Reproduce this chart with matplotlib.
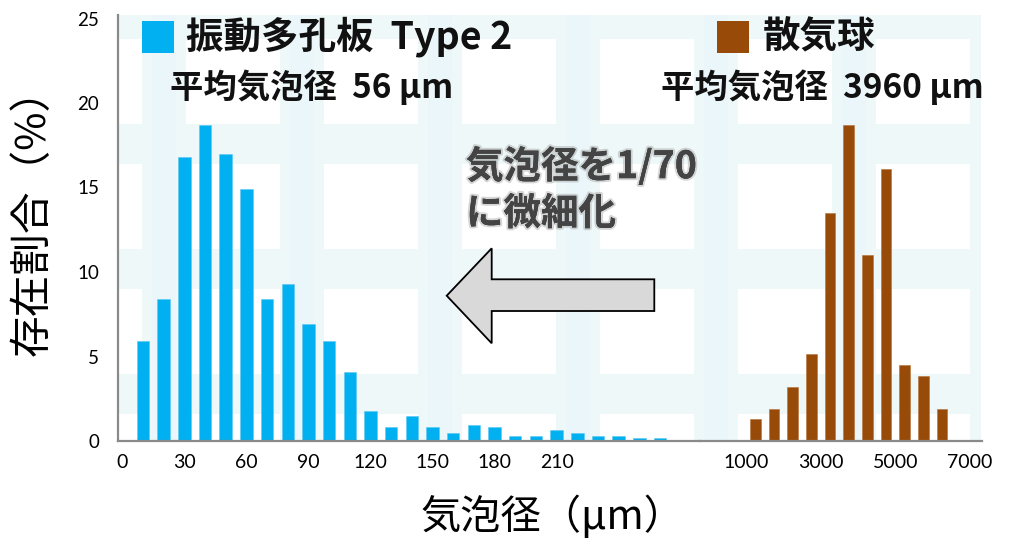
import matplotlib
matplotlib.use("Agg")
import matplotlib.pyplot as plt
from matplotlib.patches import Rectangle, Polygon
import matplotlib.patheffects as pe

# ---------------- data ----------------
# vibrating perforated plate (Type 2): 10 um classes
fine_bins_um = [10, 20, 30, 40, 50, 60, 70, 80, 90, 100, 110, 120, 130,
                140, 150, 160, 170, 180, 190, 200, 210, 220, 230, 240, 250, 260]
fine_share = [5.9, 8.4, 16.8, 18.7, 17.0, 14.9, 8.4, 9.3, 6.9, 5.9, 4.1, 1.8, 0.8,
              1.5, 0.8, 0.45, 0.95, 0.8, 0.3, 0.3, 0.65, 0.45, 0.3, 0.3, 0.16, 0.16]
# diffuser ball: 500 um classes
coarse_bins_um = [1250, 1750, 2250, 2750, 3250, 3750, 4250, 4750, 5250, 5750, 6250]
coarse_share = [1.3, 1.9, 3.2, 5.15, 13.5, 18.7, 11.0, 16.1, 4.5, 3.85, 1.9]

fine_ticks = [0, 30, 60, 90, 120, 150, 180, 210]
coarse_ticks = [1000, 3000, 5000, 7000]
y_ticks = [0, 5, 10, 15, 20, 25]

fine_name = "振動多孔板  Type 2"
fine_mean = "平均気泡径  56 µm"
coarse_name = "散気球"
coarse_mean = "平均気泡径  3960 µm"
note_text = "気泡径を1/70\nに微細化"
x_title = "気泡径（µm）"
y_title = "存在割合（%）"

BLUE = "#00B0F0"
BROWN = "#984A08"
AXIS_GRAY = "#8a8a8a"

CJK = ["Noto Sans CJK JP", "DejaVu Sans"]
NUM = ["Lato", "DejaVu Sans"]

# ---------------- layout (figure pixels) ----------------
W, H = 1009, 543
TOP, BASE = 15, 441
LEFT, SPLIT, RIGHT = 118, 700, 982
PANEL_RIGHT = 981

fig = plt.figure(figsize=(W / 100, H / 100), dpi=100)
fig.patch.set_facecolor("white")


def rect(x0, x1):
    return [x0 / W, (H - BASE) / H, (x1 - x0) / W, (BASE - TOP) / H]


# background panel: pale grid of window-like tiles
bg = fig.add_axes(rect(LEFT, PANEL_RIGHT), zorder=0)
bg.set_xlim(LEFT, PANEL_RIGHT)
bg.set_ylim(BASE, TOP)
bg.axis("off")
bg.add_patch(Rectangle((LEFT, TOP), PANEL_RIGHT - LEFT, BASE - TOP,
                       facecolor="#eff8f8", edgecolor="none"))
for x0 in range(142, PANEL_RIGHT, 138):
    bg.add_patch(Rectangle((x0 + 10, TOP), 24, BASE - TOP,
                           facecolor="#ebf6fa", edgecolor="none"))
for x0 in range(48, PANEL_RIGHT, 138):
    for y0 in range(39, BASE + 1, 125):
        bg.add_patch(Rectangle((x0, y0), 94, 85, facecolor="white",
                               edgecolor="none"))

# y scale: 16.9 px per percent
y_top = (BASE - TOP) / 16.9

# left segment (fine bubbles)
axL = fig.add_axes(rect(LEFT, SPLIT), zorder=1)
axL.set_facecolor("none")
px_per_um_L = (660 - 143) / (fine_bins_um[-1] - fine_bins_um[0])
x0_L = 143 - fine_bins_um[0] * px_per_um_L
axL.set_xlim((LEFT - x0_L) / px_per_um_L, (SPLIT - x0_L) / px_per_um_L)
axL.bar(fine_bins_um, fine_share, width=12.5 / px_per_um_L, color=BLUE,
        edgecolor="#5cc8f2", linewidth=0.4)

# right segment (coarse bubbles)
axR = fig.add_axes(rect(SPLIT, RIGHT), zorder=1)
axR.set_facecolor("none")
px_per_um_R = (942 - 755.3) / (coarse_bins_um[-1] - coarse_bins_um[0])
x0_R = 755.3 - coarse_bins_um[0] * px_per_um_R
axR.set_xlim((SPLIT - x0_R) / px_per_um_R, (RIGHT - x0_R) / px_per_um_R)
axR.bar(coarse_bins_um, coarse_share, width=10.7 / px_per_um_R, color=BROWN,
        edgecolor="#b5703a", linewidth=0.4)

for ax in (axL, axR):
    ax.set_ylim(0, y_top)
    ax.spines["top"].set_visible(False)
    ax.spines["right"].set_visible(False)
    ax.spines["bottom"].set_color(AXIS_GRAY)
    ax.spines["bottom"].set_linewidth(1.6)
    ax.tick_params(axis="x", length=0, pad=9, labelsize=14)
    ax.tick_params(axis="y", length=0)
    ax.grid(False)

axL.spines["left"].set_color(AXIS_GRAY)
axL.spines["left"].set_linewidth(1.6)
axL.set_yticks(y_ticks)
axL.set_yticklabels([str(v) for v in y_ticks], fontfamily=NUM, fontsize=13.5)
axL.tick_params(axis="y", pad=13.5)
axL.set_xticks(fine_ticks)
axL.set_xticklabels([str(v) for v in fine_ticks], fontfamily=NUM, fontsize=14)

axR.spines["left"].set_visible(False)
axR.set_yticks([])
axR.set_xticks(coarse_ticks)
axR.set_xticklabels([str(v) for v in coarse_ticks], fontfamily=NUM, fontsize=14)

# overlay in figure pixels for titles, legend keys and arrow
ov = fig.add_axes([0, 0, 1, 1], zorder=2)
ov.set_xlim(0, W)
ov.set_ylim(H, 0)
ov.axis("off")

ov.add_patch(Rectangle((142, 21), 32, 32, facecolor=BLUE, edgecolor="none"))
ov.text(186, 37, fine_name, family=CJK, fontsize=27, fontweight="bold",
        ha="left", va="center", color="#111111")
ov.text(170, 87, fine_mean, family=CJK, fontsize=24, fontweight="bold",
        ha="left", va="center", color="#111111")

ov.add_patch(Rectangle((717, 21), 32, 32, facecolor=BROWN, edgecolor="none"))
ov.text(763, 37, coarse_name, family=CJK, fontsize=27, fontweight="bold",
        ha="left", va="center", color="#111111")
ov.text(984, 87, coarse_mean, family=CJK, fontsize=24, fontweight="bold",
        ha="right", va="center", color="#111111")

arrow = Polygon([(446.7, 295.7), (491.7, 248.3), (491.7, 279.3), (654.3, 279.3),
                 (654.3, 311), (491.7, 311), (491.7, 343.3)], closed=True,
                facecolor="#d9d9d9", edgecolor="black", linewidth=1.3)
ov.add_patch(arrow)

ov.text(466, 190, note_text, family=CJK, fontsize=27, fontweight="bold",
        ha="left", va="center", color="#444444", linespacing=1.25,
        path_effects=[pe.withStroke(linewidth=3, foreground=(0.55, 0.55, 0.55, 0.35)),
                      pe.Normal()])

ov.text(552, 516, x_title, family=CJK, fontsize=29, ha="center", va="center",
        color="black")
ov.text(33, 212, y_title, family=CJK, fontsize=30, ha="center", va="center",
        rotation=90, color="black")

fig.savefig("out.png", dpi=100, facecolor="white")
